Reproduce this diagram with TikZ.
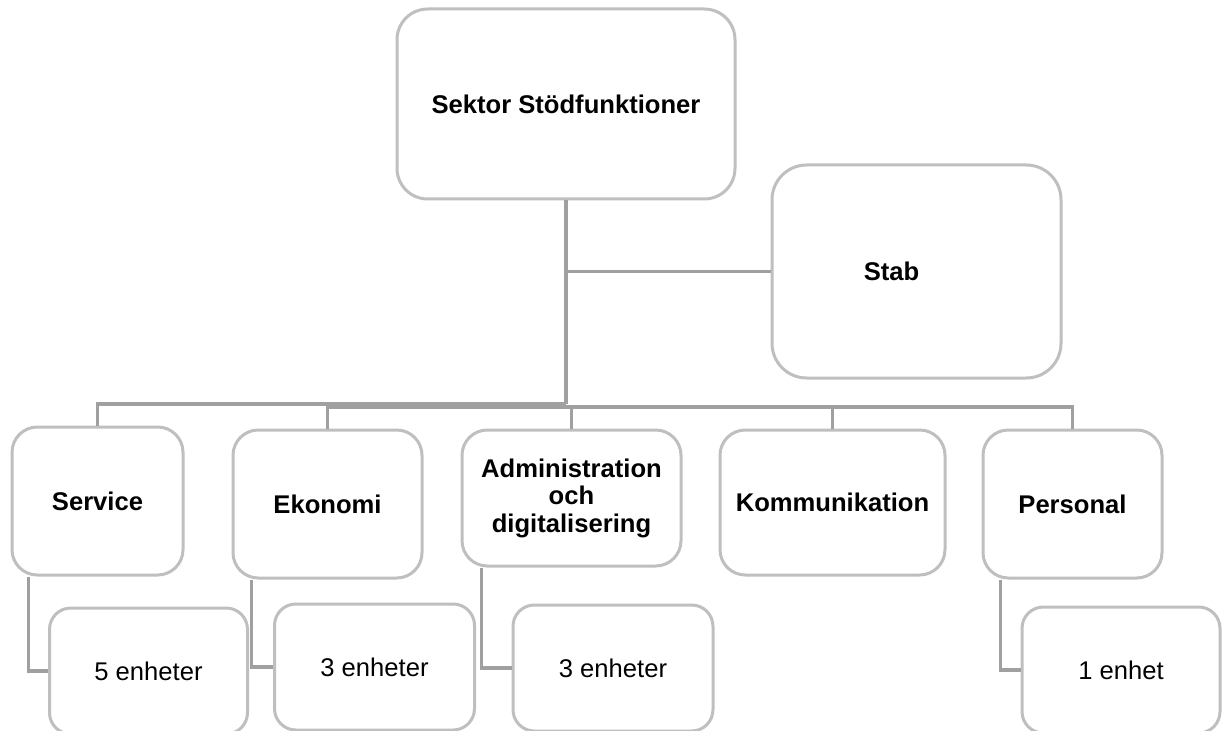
\documentclass[tikz,border=0pt]{standalone}
\usepackage{fontspec}
\setmainfont{Liberation Sans}
\usepackage{tikz}
\usetikzlibrary{calc,positioning}
\definecolor{boxgray}{RGB}{191,191,191}
\definecolor{linegray}{RGB}{160,160,160}
\newcommand\orgfont{\fontsize{19.2}{20.6}\selectfont}
\tikzset{
          orgbox/.style={
            draw=boxgray,
            line width=2.25pt,
            fill=white,
            inner sep=0pt,
            align=center,
            font=\orgfont\bfseries
          },
          unitbox/.style={orgbox,font=\orgfont,rounded corners=16pt},
          conn/.style={draw=linegray,line width=2.6pt},
          lbl/.style={font=\orgfont\bfseries,inner sep=0pt}
        }

\begin{document}
\begin{tikzpicture}[x=0.75pt,y=-0.75pt]
            \useasboundingbox (0,0) rectangle (1222,731);
            \clip (0,0) rectangle (1222,731);

            \node[orgbox,minimum width=253.5pt,minimum height=142.5pt,rounded corners=23pt] (sektor) at (566,104) {Sektor Stödfunktioner};
            \node[orgbox,minimum width=216.75pt,minimum height=159.75pt,rounded corners=26pt] (stab) at (916.5,271.5) {};
            \node[lbl] (stabtext) at ([xshift=-18.75pt]stab.center) {Stab};

            \node[orgbox,minimum width=128.25pt,minimum height=111pt,rounded corners=19pt] (service) at (97.5,501) {Service};
            \node[orgbox,minimum width=141.75pt,minimum height=111pt,rounded corners=19pt] (ekonomi) at (327.5,504) {Ekonomi};
            \node[orgbox,minimum width=164.25pt,minimum height=102pt,rounded corners=19pt] (admin) at (571.5,498) {Administration\\och\\digitalisering};
            \node[orgbox,minimum width=168.75pt,minimum height=108.75pt,rounded corners=19pt] (kommunikation) at (832.5,502.5) {Kommunikation};
            \node[orgbox,minimum width=134.25pt,minimum height=111pt,rounded corners=19pt] (personal) at (1072.5,504) {Personal};

            \node[unitbox,minimum width=148.5pt,minimum height=94.5pt] (service units) at (148.5,671) {5 enheter};
            \node[unitbox,minimum width=150pt,minimum height=94.5pt] (ekonomi units) at (374.5,667) {3 enheter};
            \node[unitbox,minimum width=150pt,minimum height=94.5pt] (admin units) at (613,668) {3 enheter};
            \node[unitbox,minimum width=148.5pt,minimum height=94.5pt] (personal units) at (1121,670) {1 enhet};

            \coordinate (hub) at (566,404);
            \coordinate (hubR) at (566,407);
            \draw[conn] (sektor.south) -- (hub);
            \draw[conn] (sektor.south |- stab.west) -- (stab.west);
            \draw[conn] (service.north) |- (hub);
            \draw[conn] (ekonomi.north) |- (hubR) -| (personal.north);
            \draw[conn] (admin.north) -- (admin.north |- hubR);
            \draw[conn] (kommunikation.north) -- (kommunikation.north |- hubR);

            \draw[conn] ([xshift=13.5pt]service.south west) |- (service units.west);
            \draw[conn] ([xshift=15pt]ekonomi.south west) |- (ekonomi units.west);
            \draw[conn] ([xshift=15.75pt]admin.south west) |- (admin units.west);
            \draw[conn] ([xshift=14.25pt]personal.south west) |- (personal units.west);
          \end{tikzpicture}
\end{document}
